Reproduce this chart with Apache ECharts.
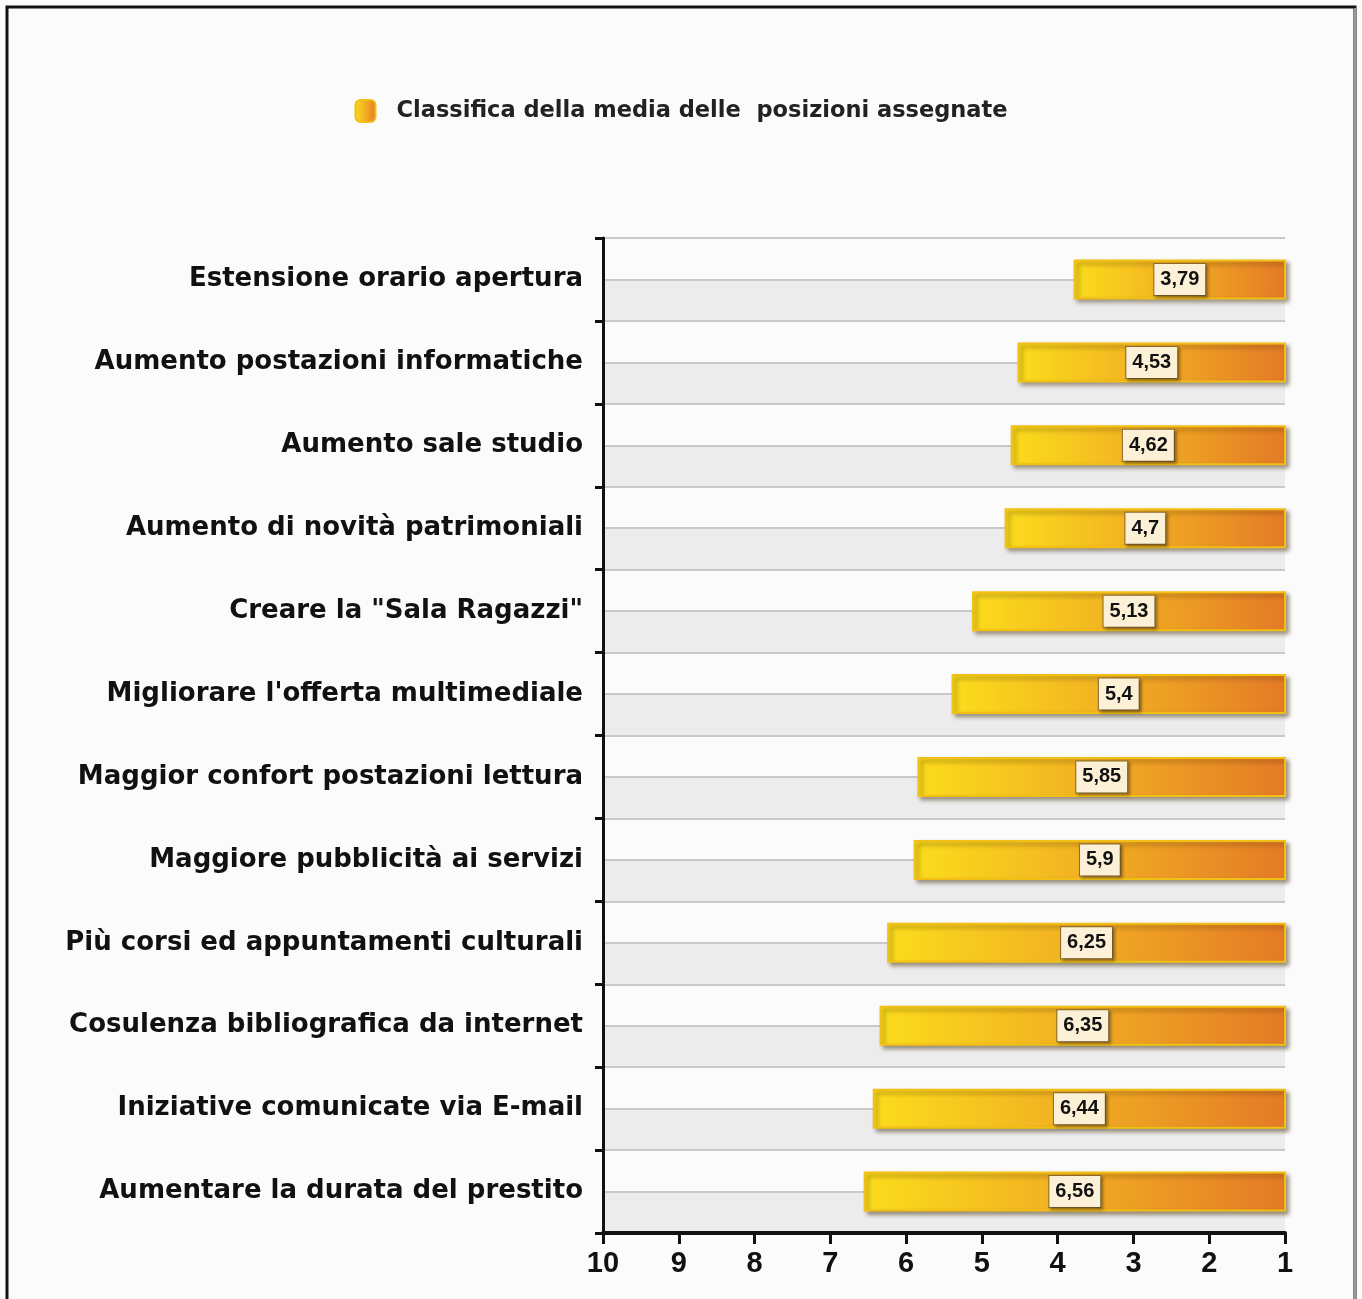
<!DOCTYPE html>
<html>
<head>
<meta charset="utf-8">
<script src="https://cdn.jsdelivr.net/npm/echarts@6/dist/echarts.min.js"></script>
<style>
  html, body { margin: 0; padding: 0; background: #fbfbfb; }
  #chart { width: 1362px; height: 1299px; }
</style>
</head>
<body>
<div id="chart"></div>
<script>
// Interventi richiesti, ordinati per posizione media assegnata (1 = prima scelta)
const categories = [
  'Estensione orario apertura',
  'Aumento postazioni informatiche',
  'Aumento sale studio',
  'Aumento di novità patrimoniali',
  'Creare la "Sala Ragazzi"',
  "Migliorare l'offerta multimediale",
  'Maggior confort postazioni lettura',
  'Maggiore pubblicità ai servizi',
  'Più corsi ed appuntamenti culturali',
  'Cosulenza bibliografica da internet',
  'Iniziative comunicate via E-mail',
  'Aumentare la durata del prestito'
];
const mediaPosizioni = [3.79, 4.53, 4.62, 4.7, 5.13, 5.4, 5.85, 5.9, 6.25, 6.35, 6.44, 6.56];
const seriesName = 'Classifica della media delle  posizioni assegnate';
const axisMin = 1;
const axisMax = 10;

// mezze righe per le fasce alterne bianco / grigio
const halfRows = [];
categories.forEach(function (c) { halfRows.push(c + ' a', c + ' b'); });

const chart = echarts.init(document.getElementById('chart'), null, { renderer: 'canvas' });

const barGradient = new echarts.graphic.LinearGradient(0, 0, 1, 0, [
  { offset: 0, color: '#fbdc1c' },
  { offset: 0.45, color: '#f2b222' },
  { offset: 1, color: '#e47a26' }
]);

chart.setOption({
  backgroundColor: '#fbfbfb',
  animation: false,
  graphic: [
    { type: 'rect', shape: { x: 7, y: 7, width: 1348, height: 1300 },
      style: { fill: 'none', stroke: '#111', lineWidth: 3 }, z: 100 },
    { type: 'line', shape: { x1: 1355, y1: 8, x2: 1355, y2: 1299 },
      style: { stroke: '#9a9a9a', lineWidth: 2 }, z: 101 }
  ],
  legend: {
    top: 94,
    left: 'center',
    itemWidth: 20,
    itemHeight: 22,
    itemGap: 10,
    icon: 'roundRect',
    textStyle: {
      fontFamily: 'DejaVu Sans',
      fontWeight: 'bold',
      fontSize: 22.5,
      color: '#222',
      padding: [0, 0, 0, 16]
    },
    data: [seriesName]
  },
  grid: { left: 603, right: 77, top: 238, bottom: 66, containLabel: false },
  xAxis: {
    type: 'value',
    inverse: true,
    min: axisMin,
    max: axisMax,
    interval: 1,
    axisLine: { show: true, lineStyle: { color: '#111', width: 4 } },
    axisTick: { show: true, length: 11, lineStyle: { color: '#111', width: 3 } },
    axisLabel: {
      margin: 16,
      fontFamily: 'Liberation Sans',
      fontWeight: 'bold',
      fontSize: 29,
      color: '#111'
    },
    splitLine: { show: false }
  },
  yAxis: [
    {
      type: 'category',
      inverse: true,
      data: categories,
      axisLine: { show: true, lineStyle: { color: '#111', width: 3 } },
      axisTick: { show: true, length: 8, lineStyle: { color: '#111', width: 3 } },
      axisLabel: {
        margin: 20,
        fontFamily: 'DejaVu Sans',
        fontWeight: 'bold',
        fontSize: 26,
        color: '#111'
      },
      splitLine: { show: false },
      z: 5
    },
    {
      type: 'category',
      inverse: true,
      position: 'left',
      data: halfRows,
      axisLine: { show: false },
      axisTick: { show: false },
      axisLabel: { show: false },
      splitLine: { show: true, lineStyle: { color: '#c9c9c9', width: 2 } },
      splitArea: { show: true, areaStyle: { color: ['#fbfbfb', '#ececec'] } }
    }
  ],
  series: [
    {
      name: seriesName,
      type: 'bar',
      yAxisIndex: 0,
      data: mediaPosizioni,
      barWidth: 40,
      clip: true,
      itemStyle: {
        color: barGradient,
        borderColor: '#f2c014',
        borderWidth: 2,
        shadowColor: 'rgba(60,40,0,0.45)',
        shadowBlur: 4,
        shadowOffsetX: 3,
        shadowOffsetY: 3
      },
      label: {
        show: true,
        position: 'inside',
        formatter: function (p) { return String(p.value).replace('.', ','); },
        fontFamily: 'Liberation Sans',
        fontWeight: 'bold',
        fontSize: 20,
        color: '#111',
        backgroundColor: '#fcf1d6',
        borderColor: '#8a6a2a',
        borderWidth: 1,
        padding: [6, 6, 5, 6],
        shadowColor: 'rgba(0,0,0,0.35)',
        shadowBlur: 3,
        shadowOffsetX: 2,
        shadowOffsetY: 2
      }
    }
  ]
});
</script>
</body>
</html>
